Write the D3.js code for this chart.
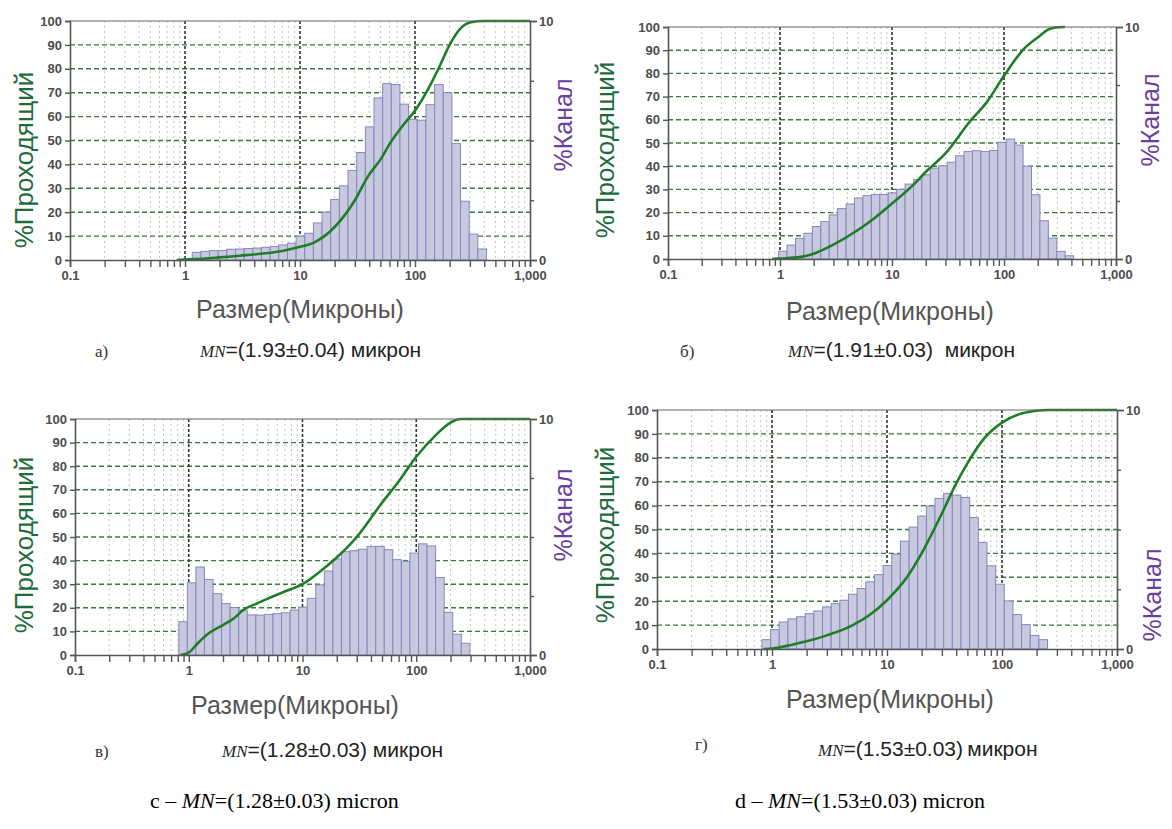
<!DOCTYPE html>
<html><head><meta charset="utf-8">
<script src="https://cdn.jsdelivr.net/npm/d3@7"></script>
<style>body{margin:0;background:#fff}</style></head>
<body><svg id="c" width="1172" height="829"></svg>
<script>
// ---- data ----
const channelEdges = [0.818, 0.972, 1.156, 1.375, 1.635, 1.945, 2.312, 2.75, 3.27, 3.89, 4.62, 5.5, 6.54, 7.78, 9.25, 11, 13.08, 15.56, 18.5, 22, 26.16, 31.11, 37, 44, 52.33, 62.23, 74, 88, 104.7, 124.5, 148, 176, 209.3, 248.9, 296, 352, 418.6];
const leftTicks = [0,10,20,30,40,50,60,70,80,90,100];
const rightTicks = [0,10];
const xTickValues = [0.1,1,10,100,1000];
const xTickLabels = ["0.1","1","10","100","1,000"];

// %Канал per channel (right axis, 0-10)
const startA = 1.156;
const channelA = [0.32,0.36,0.39,0.40,0.45,0.46,0.48,0.50,0.53,0.57,0.63,0.70,1.00,1.12,1.55,2.00,2.53,3.10,3.75,4.50,5.57,6.78,7.38,7.34,6.52,5.89,5.85,6.50,7.34,7.00,4.87,2.46,1.08,0.46];
const startB = 0.972;
const channelB = [0.34,0.60,0.89,1.11,1.40,1.61,1.90,2.17,2.37,2.63,2.73,2.78,2.78,2.85,3.00,3.23,3.42,3.63,3.92,4.02,4.17,4.45,4.63,4.67,4.63,4.68,5.03,5.17,4.91,4.00,2.77,1.65,0.90,0.33,0.14];
const startC = 0.818;
const channelC = [1.41,3.06,3.73,3.20,2.60,2.18,2.01,1.90,1.70,1.69,1.72,1.75,1.79,1.90,2.03,2.40,2.97,3.56,4.07,4.38,4.42,4.48,4.60,4.60,4.46,4.04,3.97,4.32,4.71,4.62,3.28,1.81,0.88,0.50];
const startD = 0.818;
const channelD = [0.39,0.81,1.13,1.26,1.35,1.48,1.59,1.76,1.90,2.04,2.29,2.53,2.81,3.11,3.49,3.97,4.51,5.10,5.56,5.98,6.30,6.51,6.44,6.34,5.50,4.46,3.48,2.71,2.01,1.44,1.02,0.57,0.39];

// %Проходящий (cumulative, left axis)
const cumSizesA = [0.85,1,1.5,2,3,5,7,10,13.5,20,30,39,50,61,80,100,130,160,200,250,300,400,1000];
const cumA = [0,0.2,0.6,1.1,1.8,2.8,3.8,5.5,7.5,13.8,25,35,42,49,56.8,62.5,71.5,80,90,97,99.4,100,100];
const cumSizesB = [0.85,1,1.5,2,3,5,7,10,15,20,30,50,70,100,150,200,250,300,350];
const cumB = [0,0.2,0.8,2.3,6.2,12.6,17.7,23.9,31.3,37.5,45.5,59.5,67.5,79,90.5,95.5,99,99.9,100];
const cumSizesC = [0.85,1,1.2,1.5,2,2.5,3,4,5,7,10,15,20,30,50,70,100,150,200,250,1000];
const cumC = [0,1,5,9.2,12.7,15.6,19,21.9,24,26.9,30,36.2,41.3,50,64.5,73.5,84,93.4,98.5,100,100];
const cumSizesD = [0.85,1,1.5,2,3,5,7,10,15,20,30,40,50,70,100,150,200,250,1000];
const cumD = [0,0.2,1.8,3.2,5.7,9.9,14.1,20.4,30.2,40,56.7,69.3,77.7,88.1,94.7,98.6,99.7,100,100];

const letters = ["а)","б)","в)","г)"];
const mnValues = ["=(1.93±0.04) микрон","=(1.91±0.03)  микрон","=(1.28±0.03) микрон","=(1.53±0.03)\u2009микрон"];
const captionLetters = ["c – ","d – "];
const captionValues = ["=(1.28±0.03) micron","=(1.53±0.03) micron"];
const yTitle = "%Проходящий", rTitle = "%Канал", xTitle = "Размер(Микроны)";

// ---- layout ----
const panels = [
 {bars:channelA,start:startA,cx:cumSizesA,cy:cumA,box:{l:70,r:530,t:21,b:260},yt:[24,160],rt:[563,125],xt:[300,318],let:[95,357],mn:[200,357]},
 {bars:channelB,start:startB,cx:cumSizesB,cy:cumB,box:{l:668,r:1116,t:27,b:259},yt:[605,150],rt:[1150,120],xt:[890,320],let:[680,357],mn:[788,357]},
 {bars:channelC,start:startC,cx:cumSizesC,cy:cumC,box:{l:75,r:530,t:419,b:655},yt:[24,545],rt:[563,515],xt:[295,714],let:[95,757],mn:[222,757]},
 {bars:channelD,start:startD,cx:cumSizesD,cy:cumD,box:{l:657,r:1117,t:410,b:649},yt:[605,535],rt:[1152,595],xt:[890,708],let:[695,750],mn:[818,756]}
];

const svg = d3.select("#c");
svg.append("rect").attr("width",1172).attr("height",829).attr("fill","#fff");
const SANS = "'Liberation Sans', Arial, sans-serif", SERIF = "'Liberation Serif', 'Times New Roman', serif";

const minors = [];
[0.1,1,10,100].forEach(d=>{for(let k=2;k<=9;k++) minors.push(d*k);});

panels.forEach((p,pi)=>{
  const {l,r,t,b} = p.box;
  const x = d3.scaleLog().domain([0.1,1000]).range([l,r]);
  const yL = d3.scaleLinear().domain([0,100]).range([b,t]);
  const yR = d3.scaleLinear().domain([0,10]).range([b,t]);
  const g = svg.append("g");

  g.selectAll(".mv").data(minors).join("line")
    .attr("x1",d=>x(d)).attr("x2",d=>x(d)).attr("y1",t).attr("y2",b)
    .attr("stroke","#c4c4c4").attr("stroke-width",1).attr("stroke-dasharray","2,3");
  g.selectAll(".hg").data(leftTicks.slice(1,-1)).join("line")
    .attr("x1",l).attr("x2",r).attr("y1",d=>yL(d)).attr("y2",d=>yL(d))
    .attr("stroke","#3a7a3a").attr("stroke-width",1.4).attr("stroke-dasharray","5,3");
  g.selectAll(".dg").data([1,10,100]).join("line")
    .attr("x1",d=>x(d)).attr("x2",d=>x(d)).attr("y1",t).attr("y2",b)
    .attr("stroke","#333").attr("stroke-width",1.6).attr("stroke-dasharray","3,2");

  const si = channelEdges.indexOf(p.start);
  g.selectAll(".bar").data(p.bars).join("rect")
    .attr("x",(d,i)=>x(channelEdges[si+i]))
    .attr("width",(d,i)=>x(channelEdges[si+i+1])-x(channelEdges[si+i]))
    .attr("y",d=>yR(d)).attr("height",d=>b-yR(d))
    .attr("fill","#c8c9df").attr("stroke","#8587bf").attr("stroke-width",1);

  const line = d3.line().x(d=>x(d[0])).y(d=>yL(d[1])).curve(d3.curveMonotoneX);
  g.append("path").datum(p.cx.map((s,i)=>[s,p.cy[i]]))
    .attr("d",line).attr("fill","none").attr("stroke","#1f7d27").attr("stroke-width",2.6);

  g.append("line").attr("x1",l).attr("x2",r).attr("y1",t).attr("y2",t)
    .attr("stroke","#666").attr("stroke-width",1.2);

  const style = ax=>{
    ax.selectAll(".domain").attr("stroke","#555").attr("stroke-width",1.6);
    ax.selectAll(".tick line").attr("stroke","#555").attr("stroke-width",1.4);
    ax.selectAll("text").attr("fill","#4d4d4d").attr("font-family",SANS).attr("font-size",13).attr("font-weight","bold");
  };
  const la = g.append("g").attr("transform",`translate(${l},0)`)
    .call(d3.axisLeft(yL).tickValues(leftTicks).tickSize(5).tickPadding(3));
  style(la);
  const ba = g.append("g").attr("transform",`translate(0,${b})`)
    .call(d3.axisBottom(x).tickValues(xTickValues).tickFormat((d,i)=>xTickLabels[i]).tickSize(7).tickPadding(4));
  style(ba);
  const bm = g.append("g").attr("transform",`translate(0,${b})`)
    .call(d3.axisBottom(x).tickValues(minors).tickFormat("").tickSize(7));
  style(bm); bm.select(".domain").remove();
  const ra = g.append("g").attr("transform",`translate(${r},0)`)
    .call(d3.axisRight(yR).tickValues(rightTicks).tickSize(7).tickPadding(2));
  style(ra);
  const rm = g.append("g").attr("transform",`translate(${r},0)`)
    .call(d3.axisRight(yR).tickValues([2.5,5,7.5]).tickFormat("").tickSize(4));
  style(rm); rm.select(".domain").remove();

  svg.append("text").attr("transform",`translate(${p.yt[0]},${p.yt[1]}) rotate(-90)`)
    .attr("text-anchor","middle").attr("dominant-baseline","central")
    .attr("font-family",SANS).attr("font-size",26).attr("fill","#1c6b3c").text(yTitle);
  svg.append("text").attr("transform",`translate(${p.rt[0]},${p.rt[1]}) rotate(-90)`)
    .attr("text-anchor","middle").attr("dominant-baseline","central")
    .attr("font-family",SANS).attr("font-size",25).attr("fill","#6b3fa0").text(rTitle);
  svg.append("text").attr("x",p.xt[0]).attr("y",p.xt[1]).attr("text-anchor","middle")
    .attr("font-family",SANS).attr("font-size",25).attr("fill","#555").text(xTitle);
  svg.append("text").attr("x",p.let[0]).attr("y",p.let[1])
    .attr("font-family",SERIF).attr("font-size",17).attr("fill","#333").text(letters[pi]);
  const mt = svg.append("text").attr("x",p.mn[0]).attr("y",p.mn[1]).attr("xml:space","preserve").attr("fill","#222");
  mt.append("tspan").attr("font-family",SERIF).attr("font-style","italic").attr("font-size",17).text("MN");
  mt.append("tspan").attr("font-family",SANS).attr("font-size",21).text(mnValues[pi]);
});

[[150,808],[735,808]].forEach((pos,i)=>{
  const tx = svg.append("text").attr("x",pos[0]).attr("y",pos[1]).attr("font-family",SERIF).attr("font-size",22).attr("fill","#000");
  tx.append("tspan").text(captionLetters[i]);
  tx.append("tspan").attr("font-style","italic").text("MN");
  tx.append("tspan").text(captionValues[i]);
});
</script></body></html>
